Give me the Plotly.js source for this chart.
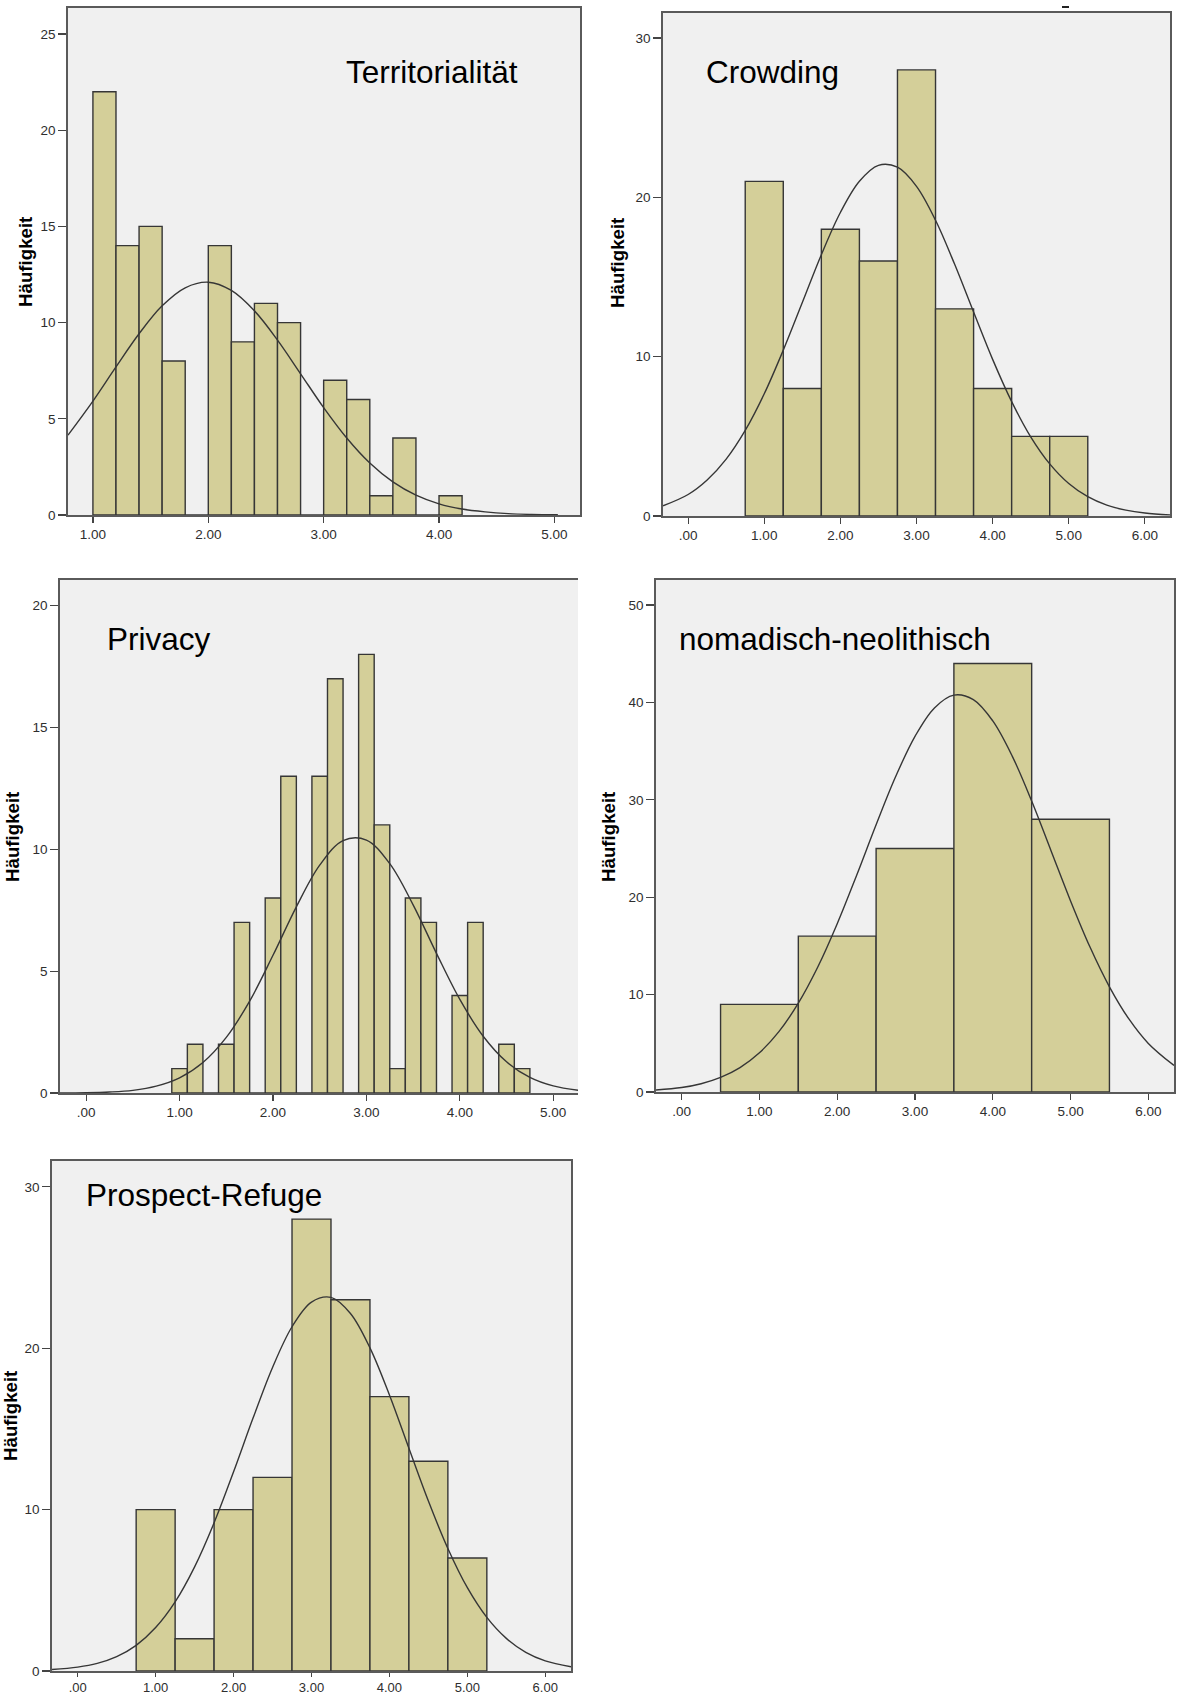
<!DOCTYPE html>
<html>
<head>
<meta charset="utf-8">
<script src="https://cdn.plot.ly/plotly-3.0.1.min.js"></script>
<style>
  html, body { margin: 0; padding: 0; background: #ffffff; }
  #chart { width: 1177px; height: 1698px; }
</style>
</head>
<body>
<div id="chart"></div>
<script>
// ---------------- DATA ----------------
const panelTitles = ["Territorialität", "Crowding", "Privacy", "nomadisch-neolithisch", "Prospect-Refuge"];
const yAxisLabel = "Häufigkeit";

// Territorialität – bin centres (width 0.2) and counts
const terrBins   = [1.1, 1.3, 1.5, 1.7, 1.9, 2.1, 2.3, 2.5, 2.7, 2.9, 3.1, 3.3, 3.5, 3.7, 3.9, 4.1];
const terrCounts = [22, 14, 15, 8, 0, 14, 9, 11, 10, 0, 7, 6, 1, 4, 0, 1];
const terrCurveX = [0.784, 1.0, 1.2, 1.4, 1.6, 1.8, 2.0, 2.2, 2.4, 2.6, 2.8, 3.0, 3.2, 3.4, 3.6, 3.8, 4.0, 4.2, 4.4, 4.6, 4.8, 5.03];
const terrCurveY = [4.15, 5.92, 7.70, 9.42, 10.87, 11.81, 12.10, 11.67, 10.61, 9.09, 7.34, 5.58, 4.00, 2.70, 1.72, 1.03, 0.58, 0.31, 0.16, 0.07, 0.03, 0.01];

// Crowding – bin centres (width 0.5) and counts
const crowdBins   = [1.0, 1.5, 2.0, 2.5, 3.0, 3.5, 4.0, 4.5, 5.0];
const crowdCounts = [21, 8, 18, 16, 28, 13, 8, 5, 5];
const crowdCurveX = [-0.33, 0, 0.25, 0.5, 0.75, 1.0, 1.25, 1.5, 1.75, 2.0, 2.25, 2.5, 2.75, 3.0, 3.25, 3.5, 3.75, 4.0, 4.25, 4.5, 4.75, 5.0, 5.25, 5.5, 5.75, 6.0, 6.33];
const crowdCurveY = [0.64, 1.35, 2.26, 3.57, 5.37, 7.67, 10.41, 13.40, 16.40, 19.05, 21.01, 22.01, 21.89, 20.69, 18.56, 15.81, 12.80, 9.83, 7.18, 4.97, 3.27, 2.04, 1.21, 0.68, 0.37, 0.19, 0.07];

// Privacy – bin centres (width 1/6) and counts
const privBins   = [1.0, 1.1667, 1.3333, 1.5, 1.6667, 1.8333, 2.0, 2.1667, 2.3333, 2.5, 2.6667, 2.8333, 3.0, 3.1667, 3.3333, 3.5, 3.6667, 3.8333, 4.0, 4.1667, 4.3333, 4.5, 4.6667];
const privCounts = [1, 2, 0, 2, 7, 0, 8, 13, 0, 13, 17, 0, 18, 11, 1, 8, 7, 0, 4, 7, 0, 2, 1];
const privCurveX = [-0.28, 0, 0.25, 0.5, 0.75, 1.0, 1.25, 1.5, 1.75, 2.0, 2.25, 2.5, 2.75, 3.0, 3.25, 3.5, 3.75, 4.0, 4.25, 4.5, 4.75, 5.0, 5.27];
const privCurveY = [0.0, 0.01, 0.04, 0.11, 0.28, 0.62, 1.25, 2.28, 3.77, 5.65, 7.64, 9.35, 10.36, 10.38, 9.41, 7.72, 5.73, 3.84, 2.33, 1.28, 0.64, 0.29, 0.11];

// nomadisch-neolithisch – bin centres (width 1) and counts
const nomBins   = [1, 2, 3, 4, 5];
const nomCounts = [9, 16, 25, 44, 28];
const nomCurveX = [-0.33, 0, 0.25, 0.5, 0.75, 1.0, 1.25, 1.5, 1.75, 2.0, 2.25, 2.5, 2.75, 3.0, 3.25, 3.5, 3.75, 4.0, 4.25, 4.5, 4.75, 5.0, 5.25, 5.5, 5.75, 6.0, 6.33];
const nomCurveY = [0.20, 0.46, 0.85, 1.50, 2.51, 4.03, 6.20, 9.12, 12.83, 17.28, 22.26, 27.44, 32.36, 36.52, 39.44, 40.75, 40.29, 38.10, 34.49, 29.87, 24.75, 19.62, 14.88, 10.80, 7.50, 4.99, 2.72];

// Prospect-Refuge – bin centres (width 0.5) and counts
const prosBins   = [1.0, 1.5, 2.0, 2.5, 3.0, 3.5, 4.0, 4.5, 5.0];
const prosCounts = [10, 2, 10, 12, 28, 23, 17, 13, 7];
const prosCurveX = [-0.33, 0, 0.25, 0.5, 0.75, 1.0, 1.25, 1.5, 1.75, 2.0, 2.25, 2.5, 2.75, 3.0, 3.25, 3.5, 3.75, 4.0, 4.25, 4.5, 4.75, 5.0, 5.25, 5.5, 5.75, 6.0, 6.33];
const prosCurveY = [0.09, 0.24, 0.47, 0.89, 1.59, 2.69, 4.28, 6.45, 9.18, 12.34, 15.67, 18.81, 21.33, 22.86, 23.15, 22.15, 20.02, 17.10, 13.80, 10.53, 7.59, 5.16, 3.32, 2.02, 1.16, 0.63, 0.26];

// tick labels
const xTicks15 = [1, 2, 3, 4, 5];
const xTickText15 = ["1.00", "2.00", "3.00", "4.00", "5.00"];
const xTicks05 = [0, 1, 2, 3, 4, 5];
const xTickText05 = [".00", "1.00", "2.00", "3.00", "4.00", "5.00"];
const xTicks06 = [0, 1, 2, 3, 4, 5, 6];
const xTickText06 = [".00", "1.00", "2.00", "3.00", "4.00", "5.00", "6.00"];
const yTicksTerr = [0, 5, 10, 15, 20, 25];
const yTicksCrowd = [0, 10, 20, 30];
const yTicksPriv = [0, 5, 10, 15, 20];
const yTicksNom = [0, 10, 20, 30, 40, 50];
const yTicksPros = [0, 10, 20, 30];

// ---------------- LAYOUT / STYLE ----------------
const W = 1177, H = 1698;
const FONT = "Liberation Sans, Arial, Helvetica, sans-serif";
const barFill = "#d4cf99";
const barLine = "#363636";
const curveColor = "#363636";

// pixel boxes of the five plot areas [left, right, top, bottom]
const boxes = [
  [68, 580, 8, 515],
  [663, 1170, 13, 516],
  [60, 578, 580, 1093],
  [656, 1174, 580, 1092],
  [52, 571, 1161, 1671]
];
const xRanges = [[0.784, 5.222], [-0.33, 6.33], [-0.28, 5.265], [-0.33, 6.33], [-0.33, 6.33]];
const yRanges = [[0, 26.35], [0, 31.57], [0, 21.05], [0, 52.57], [0, 31.6]];
const binWidths = [0.2, 0.5, 1/6, 1, 0.5];
const xTickLens = [6, 6, 6, 6, 4];
const xTickSizes = [13.5, 13.5, 13.5, 13.5, 13];

const panels = [
  {bins: terrBins, counts: terrCounts, cx: terrCurveX, cy: terrCurveY, xt: xTicks15, xtt: xTickText15, yt: yTicksTerr},
  {bins: crowdBins, counts: crowdCounts, cx: crowdCurveX, cy: crowdCurveY, xt: xTicks06, xtt: xTickText06, yt: yTicksCrowd},
  {bins: privBins, counts: privCounts, cx: privCurveX, cy: privCurveY, xt: xTicks05, xtt: xTickText05, yt: yTicksPriv},
  {bins: nomBins, counts: nomCounts, cx: nomCurveX, cy: nomCurveY, xt: xTicks06, xtt: xTickText06, yt: yTicksNom},
  {bins: prosBins, counts: prosCounts, cx: prosCurveX, cy: prosCurveY, xt: xTicks06, xtt: xTickText06, yt: yTicksPros}
];

// title placement [left x, cap-centre y] and y-label centre [x, y]
const titlePos = [[344, 72], [704, 72], [105, 639], [677, 639], [84, 1195]];
const ylabPos = [[25, 262], [617, 263], [13, 837], [609, 837], [10, 1416]];

const data = [];
const layout = {
  width: W, height: H,
  margin: {l: 0, r: 0, t: 0, b: 0},
  paper_bgcolor: "#ffffff",
  plot_bgcolor: "#f0f0f0",
  showlegend: false,
  bargap: 0,
  annotations: [],
  shapes: []
};

panels.forEach((p, i) => {
  const n = i === 0 ? "" : String(i + 1);
  const xa = "x" + n, ya = "y" + n;
  const b = boxes[i];
  data.push({
    type: "bar", x: p.bins, y: p.counts, width: binWidths[i],
    xaxis: xa, yaxis: ya,
    marker: {color: barFill, line: {color: barLine, width: 1.4}},
    hoverinfo: "x+y"
  });
  data.push({
    type: "scatter", mode: "lines", x: p.cx, y: p.cy,
    xaxis: xa, yaxis: ya,
    line: {color: curveColor, width: 1.4, shape: "spline", smoothing: 1},
    hoverinfo: "skip"
  });
  const common = {
    showgrid: false, zeroline: false, showline: true,
    linecolor: "#5a5a5a", linewidth: 1.7,
    ticks: "outside", tickcolor: "#444444", tickwidth: 1.2,
    fixedrange: true
  };
  layout["xaxis" + n] = Object.assign({}, common, {
    domain: [b[0] / W, b[1] / W],
    range: xRanges[i],
    anchor: ya,
    mirror: true,
    ticklen: xTickLens[i],
    tickfont: {family: FONT, size: xTickSizes[i], color: "#2e2e2e"},
    tickmode: "array", tickvals: p.xt, ticktext: p.xtt
  });
  layout["yaxis" + n] = Object.assign({}, common, {
    domain: [1 - b[3] / H, 1 - b[2] / H],
    range: yRanges[i],
    anchor: xa,
    mirror: i === 2 ? false : true,
    ticklen: 8,
    tickfont: {family: FONT, size: 13.5, color: "#2e2e2e"},
    tickmode: "array", tickvals: p.yt, ticktext: p.yt.map(String)
  });
  layout.annotations.push({
    xref: "paper", yref: "paper",
    x: titlePos[i][0] / W, y: 1 - titlePos[i][1] / H,
    xanchor: "left", yanchor: "middle",
    text: panelTitles[i], showarrow: false,
    font: {family: FONT, size: 31.5, color: "#000000"}
  });
  layout.annotations.push({
    xref: "paper", yref: "paper",
    x: ylabPos[i][0] / W, y: 1 - ylabPos[i][1] / H,
    xanchor: "center", yanchor: "middle",
    text: "<b>" + yAxisLabel + "</b>", textangle: -90, showarrow: false,
    font: {family: FONT, size: 18.7, color: "#000000"}
  });
});

// small stray dash above the Crowding panel
layout.shapes.push({
  type: "line", xref: "paper", yref: "paper",
  x0: 1062 / W, x1: 1069 / W, y0: 1 - 7 / H, y1: 1 - 7 / H,
  line: {color: "#222222", width: 2}
});

Plotly.newPlot("chart", data, layout, {staticPlot: true, displayModeBar: false});
</script>
</body>
</html>
